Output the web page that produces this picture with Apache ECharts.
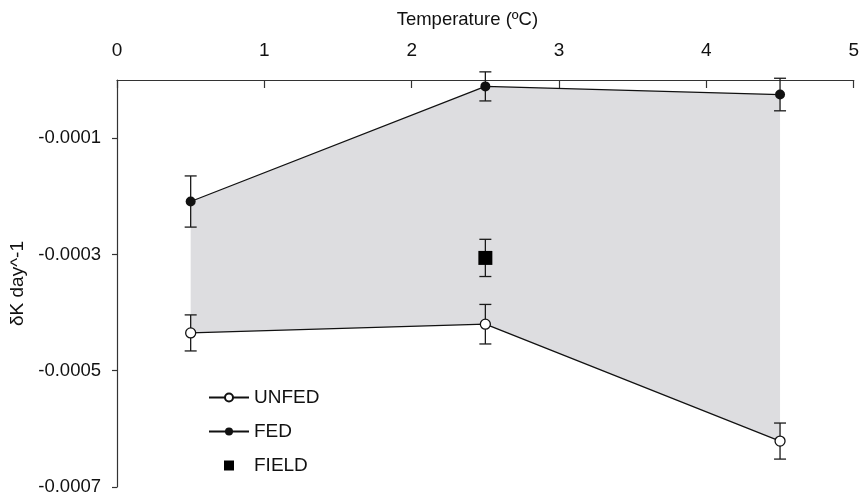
<!DOCTYPE html>
<html>
<head>
<meta charset="utf-8">
<script src="https://cdn.jsdelivr.net/npm/echarts@6/dist/echarts.min.js"></script>
<style>html,body{margin:0;padding:0;background:#fff}#c{width:862px;height:499px}</style>
</head>
<body>
<div id="c"></div>
<script>
// Data
const xValues = [0.5, 2.5, 4.5];
const unfedValues = [-0.000435, -0.00042, -0.000621];
const unfedErr = [0.000031, 0.000034, 0.000031];
const fedValues = [-0.000209, -0.000011, -0.000025];
const fedErr = [0.000044, 0.000025, 0.000028];
const fieldX = [2.5];
const fieldValues = [-0.000306];
const fieldErr = [0.000032];
const yTickValues = [-0.0007, -0.0005, -0.0003, -0.0001];
const seriesNames = ['UNFED', 'FED', 'FIELD'];

const FONT = 'Liberation Sans, Arial, sans-serif';
const INK = '#111';

function errData(xs, ys, es) {
  return xs.map((x, i) => [x, ys[i], es[i]]);
}
function errRender(params, api) {
  const x = api.value(0), y = api.value(1), e = api.value(2);
  const top = api.coord([x, y + e]);
  const bot = api.coord([x, y - e]);
  const hw = 6;
  const st = { stroke: '#1a1a1a', lineWidth: 1.3 };
  return {
    type: 'group',
    children: [
      { type: 'line', shape: { x1: top[0], y1: top[1], x2: bot[0], y2: bot[1] }, style: st },
      { type: 'line', shape: { x1: top[0] - hw, y1: top[1], x2: top[0] + hw, y2: top[1] }, style: st },
      { type: 'line', shape: { x1: bot[0] - hw, y1: bot[1], x2: bot[0] + hw, y2: bot[1] }, style: st }
    ]
  };
}

const chart = echarts.init(document.getElementById('c'), null, { renderer: 'canvas' });
chart.setOption({
  animation: false,
  backgroundColor: '#fff',
  textStyle: { fontFamily: FONT },
  grid: { left: 117, right: 3, top: 80, bottom: 12, containLabel: false },
  legend: {
    orient: 'vertical',
    left: 203,
    top: 383,
    height: 115,
    itemWidth: 40,
    itemHeight: 10,
    itemGap: 15,
    symbolKeepAspect: true,
    data: [
      { name: seriesNames[0] },
      { name: seriesNames[1] },
      { name: seriesNames[2], icon: 'path://M0,0L10,0L10,10L0,10Z', itemStyle: { color: '#000', opacity: 1 } }
    ],
    textStyle: { fontFamily: FONT, fontSize: 19, color: INK },
    inactiveColor: '#999'
  },
  xAxis: {
    type: 'value',
    position: 'top',
    min: 0, max: 5, interval: 1,
    name: 'Temperature (ºC)',
    nameLocation: 'middle',
    nameGap: 51,
    nameTextStyle: { fontFamily: FONT, fontSize: 18.5, color: INK, padding: [0, 36, 0, 0] },
    axisLine: { show: true, onZero: false, lineStyle: { color: '#333', width: 1.2 } },
    axisTick: { show: true, inside: true, length: 8, lineStyle: { color: '#333', width: 1.2 } },
    axisLabel: { fontFamily: FONT, fontSize: 19, color: INK, margin: 20 },
    splitLine: { show: false }
  },
  yAxis: {
    type: 'value',
    min: -0.0007, max: 0,
    name: 'δK day^-1',
    nameLocation: 'middle',
    nameGap: 82,
    nameTextStyle: { fontFamily: FONT, fontSize: 19, color: INK },
    axisLine: { show: true, onZero: false, lineStyle: { color: '#333', width: 1.2 } },
    axisTick: { show: true, length: 5, customValues: yTickValues, lineStyle: { color: '#333', width: 1.2 } },
    axisLabel: { fontFamily: FONT, fontSize: 18.5, color: INK, margin: 16, customValues: yTickValues,
      formatter: v => v.toFixed(4) },
    splitLine: { show: false }
  },
  series: [
    {
      name: 'band',
      type: 'custom',
      silent: true,
      z: 1,
      data: [[xValues[0], fedValues[0]]],
      renderItem: function (params, api) {
        const pts = [];
        for (let i = 0; i < xValues.length; i++) pts.push(api.coord([xValues[i], fedValues[i]]));
        for (let i = xValues.length - 1; i >= 0; i--) pts.push(api.coord([xValues[i], unfedValues[i]]));
        return { type: 'polygon', shape: { points: pts }, style: { fill: '#dddde0', stroke: null } };
      }
    },
    {
      name: 'unfedErr', type: 'custom', silent: true, z: 3, clip: false,
      data: errData(xValues, unfedValues, unfedErr), renderItem: errRender
    },
    {
      name: 'fedErr', type: 'custom', silent: true, z: 3, clip: false,
      data: errData(xValues, fedValues, fedErr), renderItem: errRender
    },
    {
      name: 'fieldErr', type: 'custom', silent: true, z: 3, clip: false,
      data: errData(fieldX, fieldValues, fieldErr), renderItem: errRender
    },
    {
      name: 'UNFED',
      type: 'line',
      z: 5,
      data: xValues.map((x, i) => [x, unfedValues[i]]),
      symbol: 'circle',
      symbolSize: 10,
      showAllSymbol: true,
      clip: false,
      lineStyle: { color: INK, width: 1.3 },
      itemStyle: { color: '#fff', borderColor: INK, borderWidth: 1.3 }
    },
    {
      name: 'FED',
      type: 'line',
      z: 5,
      data: xValues.map((x, i) => [x, fedValues[i]]),
      symbol: 'circle',
      symbolSize: 10,
      clip: false,
      lineStyle: { color: INK, width: 1.3 },
      itemStyle: { color: INK, borderColor: INK, borderWidth: 0 }
    },
    {
      name: 'FIELD',
      type: 'scatter',
      z: 5,
      data: fieldX.map((x, i) => [x, fieldValues[i]]),
      symbol: 'rect',
      symbolSize: 14,
      itemStyle: { color: '#000', opacity: 1 }
    }
  ]
});
</script>
</body>
</html>
